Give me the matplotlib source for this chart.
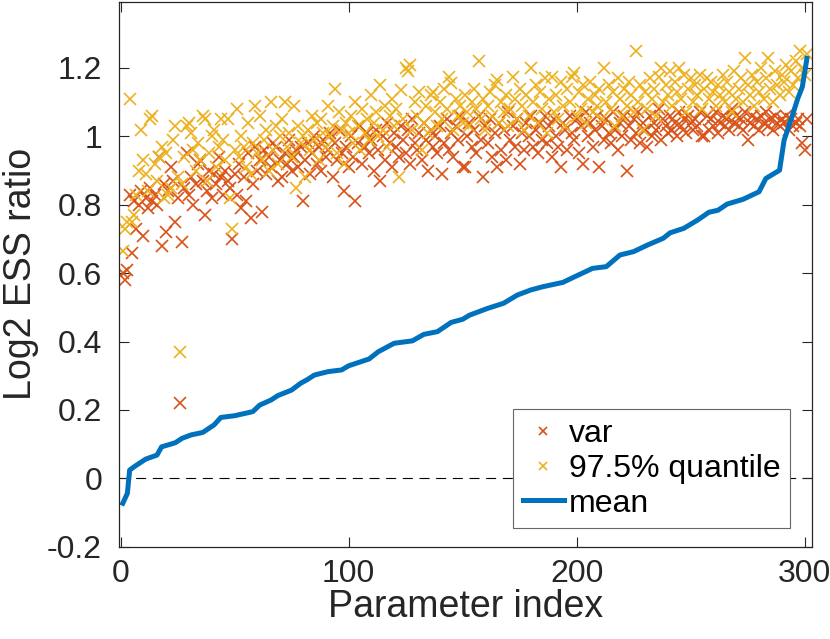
import numpy as np
import matplotlib
matplotlib.use('Agg')
import matplotlib.pyplot as plt

plt.rcParams['font.family'] = ['Liberation Sans', 'DejaVu Sans']

# mean log2 ESS ratio (sorted), read at points along the curve
mean_idx = [1, 3, 4, 6, 11, 16, 18, 24, 27, 31, 36, 41, 44, 50, 58, 61, 66, 69,
            75, 79, 82, 85, 91, 97, 100, 109, 113, 120, 128, 133, 139, 145, 150,
            153, 161, 168, 174, 180, 185, 194, 199, 207, 213, 219, 225, 231, 238,
            241, 247, 253, 258, 262, 266, 273, 280, 283, 289, 291, 294, 297, 299, 301]
mean_val = [-0.073, -0.044, 0.024, 0.034, 0.056, 0.068, 0.092, 0.104, 0.117, 0.127,
            0.134, 0.156, 0.178, 0.183, 0.195, 0.214, 0.229, 0.242, 0.258, 0.278,
            0.289, 0.302, 0.312, 0.317, 0.329, 0.349, 0.370, 0.395, 0.402, 0.421,
            0.429, 0.456, 0.465, 0.477, 0.497, 0.512, 0.536, 0.551, 0.560, 0.573,
            0.589, 0.614, 0.619, 0.653, 0.663, 0.682, 0.702, 0.718, 0.731, 0.755,
            0.778, 0.784, 0.802, 0.816, 0.838, 0.877, 0.901, 0.989, 1.048, 1.111,
            1.145, 1.228]

var_val = [
    0.60, 0.58, 0.61, 0.83, 0.66, 0.81, 0.73, 0.80, 0.84, 0.71,
    0.82, 0.79, 0.85, 0.81, 0.83, 0.80, 0.94, 0.68, 0.86, 0.72,
    0.84, 0.91, 0.87, 0.75, 0.82, 0.22, 0.69, 0.85, 0.95, 0.83,
    0.88, 0.80, 0.86, 0.92, 0.93, 0.87, 0.77, 0.84, 0.90, 0.82,
    0.89, 0.86, 0.94, 0.88, 0.83, 0.90, 0.87, 0.85, 0.70, 0.89,
    0.83, 0.92, 0.79, 0.88, 0.81, 0.95, 0.76, 0.86, 0.97, 0.90,
    0.93, 0.78, 0.96, 0.89, 0.94, 0.91, 0.98, 0.97, 0.87, 0.93,
    0.88, 0.95, 0.92, 0.99, 0.90, 0.94, 0.96, 0.91, 0.97, 0.81,
    0.93, 0.98, 0.89, 0.95, 1.00, 0.92, 0.97, 0.90, 0.99, 0.94,
    0.96, 1.01, 0.88, 0.98, 0.93, 1.02, 0.95, 0.84, 0.97, 0.91,
    1.00, 0.94, 0.81, 0.98, 1.03, 0.92, 0.97, 1.01, 0.95, 0.99,
    0.90, 1.02, 0.96, 0.87, 1.00, 0.93, 1.04, 0.98, 0.91, 1.01,
    0.97, 0.94, 1.03, 0.99, 0.95, 1.02, 0.92, 1.05, 0.98, 0.96,
    1.01, 0.93, 1.04, 0.99, 0.90, 1.02, 0.97, 1.00, 0.95, 1.03,
    0.89, 0.98, 1.05, 0.96, 1.01, 0.94, 1.03, 0.99, 1.06, 0.91,
    0.91, 1.00, 1.04, 0.97, 1.02, 0.95, 1.06, 0.99, 0.88, 1.03,
    0.98, 1.05, 0.94, 1.01, 0.91, 1.04, 0.96, 1.02, 0.93, 1.07,
    0.99, 1.03, 0.97, 1.05, 0.92, 1.01, 0.96, 1.04, 1.00, 1.06,
    0.97, 1.02, 0.95, 1.04, 0.99, 1.06, 0.98, 1.03, 0.94, 1.05,
    1.00, 0.97, 0.91, 1.04, 1.02, 0.96, 1.06, 1.01, 0.99, 1.05,
    0.95, 1.03, 0.92, 1.07, 1.00, 1.04, 0.97, 1.02, 1.06, 0.91,
    1.03, 0.99, 1.05, 1.01, 0.98, 1.07, 1.02, 0.96, 1.04, 1.00,
    1.06, 0.90, 1.03, 0.99, 1.05, 1.01, 1.07, 0.98, 1.04, 1.02,
    0.97, 1.06, 1.00, 1.04, 1.02, 1.08, 0.99, 1.05, 1.03, 1.01,
    1.06, 1.02, 1.04, 1.00, 1.07, 1.03, 1.05, 1.01, 1.06, 1.04,
    1.02, 1.05, 1.03, 1.07, 1.00, 1.00, 1.06, 1.02, 1.05, 1.03,
    1.07, 1.01, 1.04, 1.06, 1.03, 1.05, 1.02, 1.08, 1.04, 1.06,
    1.03, 1.05, 1.02, 1.07, 0.99, 1.04, 1.06, 1.03, 1.05, 1.02,
    1.06, 1.04, 1.07, 1.03, 1.05, 1.02, 1.06, 1.04, 1.03, 1.05,
    1.04, 1.06, 1.02, 1.05, 1.03, 1.04, 1.05, 1.03, 0.98, 0.96,
    1.05]

q_val = [
    0.665, 0.73, 0.75, 1.11, 0.75, 0.77, 0.83, 0.90, 1.02, 0.93,
    0.89, 0.84, 1.05, 1.06, 0.92, 0.87, 0.94, 0.97, 0.82, 0.95,
    0.83, 0.85, 0.99, 1.03, 0.88, 0.37, 0.86, 0.94, 1.03, 1.04,
    1.01, 0.96, 0.90, 0.98, 0.93, 1.06, 1.05, 0.87, 0.95, 1.00,
    1.02, 0.91, 0.97, 1.05, 0.99, 0.93, 1.05, 0.82, 0.73, 0.96,
    1.08, 0.94, 1.00, 0.97, 0.91, 1.04, 0.89, 0.98, 1.09, 0.95,
    1.06, 0.93, 0.99, 1.02, 0.90, 1.10, 0.96, 1.03, 0.92, 1.00,
    1.05, 1.10, 0.97, 1.01, 0.94, 1.09, 0.85, 1.03, 0.98, 1.00,
    0.88, 1.02, 0.96, 1.06, 0.99, 1.04, 0.93, 1.05, 1.01, 0.97,
    1.09, 1.00, 1.03, 1.14, 0.95, 1.07, 1.02, 0.92, 1.04, 1.01,
    1.06, 0.98, 1.10, 1.03, 0.96, 1.08, 1.01, 1.05, 0.99, 1.12,
    1.04, 1.07, 1.00, 1.15, 1.02, 1.09, 0.97, 1.06, 1.11, 1.03,
    1.08, 0.88, 1.135, 1.05, 1.20, 1.19, 1.21, 1.02, 1.10, 1.06,
    1.13, 0.96, 1.04, 1.09, 1.01, 1.12, 1.13, 1.07, 1.03, 1.10,
    1.05, 1.14, 1.08, 1.175, 1.155, 1.02, 1.11, 1.06, 1.09, 1.04,
    1.12, 1.07, 1.03, 1.10, 1.14, 1.08, 1.22, 1.05, 1.11, 1.02,
    1.09, 1.13, 1.06, 1.15, 1.165, 1.04, 1.10, 1.07, 1.12, 1.03,
    1.08, 1.175, 1.11, 1.05, 1.14, 1.09, 1.02, 1.12, 1.06, 1.20,
    1.10, 1.15, 1.04, 1.13, 1.08, 1.17, 1.01, 1.11, 1.175, 1.07,
    1.12, 1.05, 1.16, 1.09, 1.03, 1.14, 1.10, 1.175, 1.185, 1.06,
    1.13, 1.08, 1.15, 1.04, 1.11, 1.16, 1.07, 1.12, 1.09, 1.14,
    1.05, 1.20, 1.10, 1.15, 1.08, 1.13, 1.03, 1.17, 1.11, 1.06,
    1.14, 1.09, 1.16, 1.12, 1.07, 1.25, 1.10, 1.15, 1.02, 1.13,
    1.08, 1.17, 1.11, 1.14, 1.06, 1.175, 1.20, 1.10, 1.15, 1.12,
    1.19, 1.09, 1.16, 1.13, 1.20, 1.11, 1.18, 1.07, 1.14, 1.17,
    1.10, 1.15, 1.12, 1.18, 1.08, 1.14, 1.17, 1.11, 1.16, 1.13,
    1.09, 1.15, 1.12, 1.18, 1.10, 1.16, 1.13, 1.07, 1.19, 1.11,
    1.14, 1.17, 1.10, 1.23, 1.15, 1.12, 1.18, 1.09, 1.16, 1.13,
    1.20, 1.11, 1.17, 1.23, 1.14, 1.10, 1.19, 1.15, 1.12, 1.18,
    1.16, 1.21, 1.13, 1.19, 1.15, 1.22, 1.17, 1.25, 1.20, 1.18,
    1.24]

idx = np.arange(1, len(var_val) + 1)

c_var = (0.85, 0.325, 0.098)
c_q = (0.929, 0.694, 0.125)
c_mean = (0.0, 0.447, 0.741)
dark = (0.15, 0.15, 0.15)

fig = plt.figure(figsize=(8.3, 6.39), dpi=100)
ax = fig.add_axes([118.7 / 830, 1 - 546.7 / 639, 693 / 830, 544.7 / 639])

ax.plot(idx, var_val, 'x', color=c_var, ms=8.5, mew=1.2, label='var')
ax.plot(idx, q_val, 'x', color=c_q, ms=8.5, mew=1.2, label='97.5% quantile')
ax.plot(mean_idx, mean_val, '-', color=c_mean, lw=3.6, label='mean')
ax.axhline(0, color='k', lw=0.8, ls=(0, (9, 6)), zorder=0.5)

ax.set_xlim(-0.8, 303.1)
ax.set_ylim(-0.2, 1.393)
ax.set_xticks([0, 100, 200, 300])
ax.set_yticks([-0.2, 0, 0.2, 0.4, 0.6, 0.8, 1, 1.2])
ax.set_yticklabels(['-0.2', '0', '0.2', '0.4', '0.6', '0.8', '1', '1.2'])
ax.tick_params(direction='in', length=7, width=0.8, colors=dark,
               labelsize=23, top=True, right=True, pad=9)
ax.tick_params(axis='y', pad=12)
for s in ax.spines.values():
    s.set_color(dark)
    s.set_linewidth(0.9)

ax.set_xlabel('Parameter index', fontsize=27, color=dark, labelpad=0)
ax.set_ylabel('Log2 ESS ratio', fontsize=27, color=dark, labelpad=6)

leg = ax.legend(loc='lower right', bbox_to_anchor=(0.969, 0.034),
                borderaxespad=0, fontsize=23, fancybox=False, framealpha=1,
                edgecolor=(0.4, 0.4, 0.4), handlelength=1.3, handletextpad=0.15,
                labelspacing=0.15, borderpad=0.3, markerscale=0.7)
leg.get_frame().set_linewidth(0.8)

fig.savefig('out.png', dpi=100)
